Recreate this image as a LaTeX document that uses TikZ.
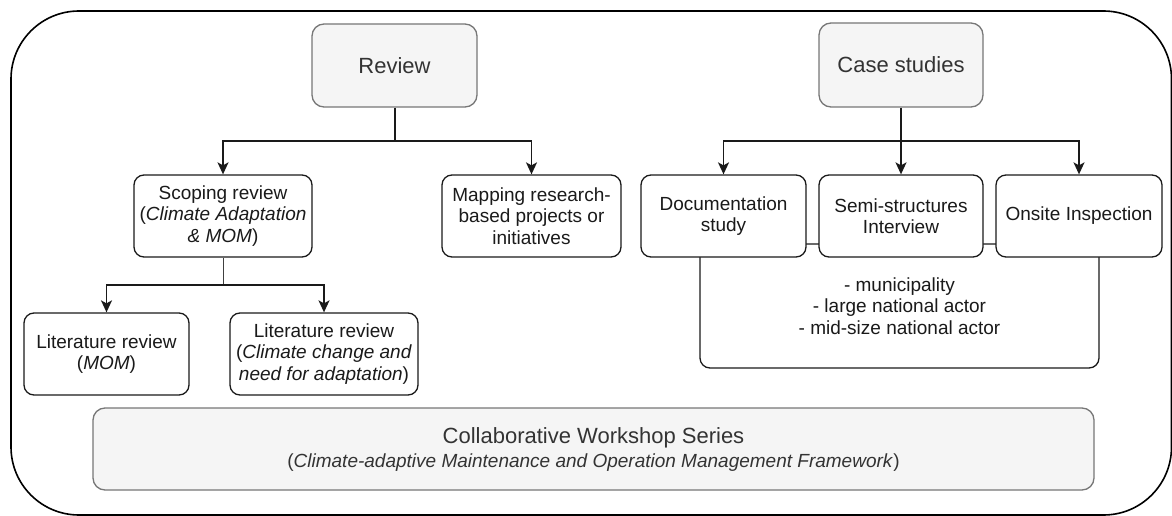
\documentclass[tikz,border=0pt]{standalone}
\usepackage{fontspec}
\setmainfont{Liberation Sans}
\usetikzlibrary{arrows.meta}
\definecolor{grayfill}{HTML}{F5F5F5}
\definecolor{grayline}{HTML}{777777}
\definecolor{txtgray}{HTML}{333333}
\definecolor{ink}{HTML}{1A1A1A}
\begin{document}
\begin{tikzpicture}[x=1pt,y=-1pt,
  box/.style={draw=ink, line width=1.3pt, fill=white, rounded corners=10pt, inner sep=0pt,
    align=center, minimum height=82pt, text=ink, font=\fontsize{19}{21.5}\selectfont},
  headbox/.style={box, draw=grayline, fill=grayfill, text=txtgray,
    font=\fontsize{22}{26}\selectfont, rounded corners=12pt, minimum height=84pt},
  arr/.style={draw=ink, line width=1.5pt, -{Stealth[length=12pt,width=11pt,inset=3pt]}},
  plain/.style={draw=ink, line width=1.5pt},
  stem/.style={draw=black!75, line width=0.9pt},
  outer/.style={draw=black, line width=1.6pt, rounded corners=68pt}
]
\useasboundingbox (0,0) rectangle (1172,516);
\draw[outer] (11,11) rectangle (1171.5,515);

% group of case study methods (behind)
\node[box, minimum width=399pt, minimum height=124pt] (grp) at (899.5,306)
  {- municipality\\- large national actor\\- mid-size national actor};

% top level
\node[headbox, minimum width=165pt, minimum height=83pt] (review) at (394.5,65.5) {Review};
\node[headbox, minimum width=164pt] (case) at (901,65) {Case studies};

% review branch
\node[box, minimum width=178pt] (scoping) at (223,216)
  {Scoping review\\(\textit{Climate Adaptation}\\\textit{\& MOM})};
\node[box, minimum width=179pt] (mapping) at (531.5,216)
  {Mapping research-\\based projects or\\initiatives};
\node[box, minimum width=165pt] (lit1) at (106.5,354)
  {Literature review\\(\textit{MOM})};
\node[box, minimum width=188pt] (lit2) at (324,354)
  {Literature review\\(\textit{Climate change and}\\\textit{need for adaptation})};

% case branch
\node[box, minimum width=165pt] (doc) at (723.5,216) {Documentation\\study};
\node[box, minimum width=164pt] (semi) at (901,216) {Semi-structures\\Interview};
\node[box, minimum width=166pt] (onsite) at (1079,216) {Onsite Inspection};

% workshop
\node[box, draw=grayline, fill=grayfill, text=txtgray, rounded corners=12pt,
  minimum width=1001pt, minimum height=82pt, font=\fontsize{22}{24}\selectfont] (ws) at (593.5,449)
  {Collaborative Workshop Series\\{\fontsize{19}{24}\selectfont (\textit{Climate-adaptive Maintenance and Operation Management Framework})}};

% connectors
\coordinate (rj) at (395,141);
\coordinate (cj) at (901,141);
\coordinate (sj) at (223,285);
\draw[plain] (review.south -| rj) -- (rj);
\draw[arr] (rj) -| (scoping.north);
\draw[arr] (rj) -| (mapping.north);
\draw[arr] (case.south) -- (semi.north);
\draw[arr] (cj) -| (doc.north);
\draw[arr] (cj) -| (onsite.north);
\draw[stem] (scoping.south) -- (sj);
\draw[arr] (sj) -| (lit1.north);
\draw[arr] (sj) -| (lit2.north);
\end{tikzpicture}
\end{document}
